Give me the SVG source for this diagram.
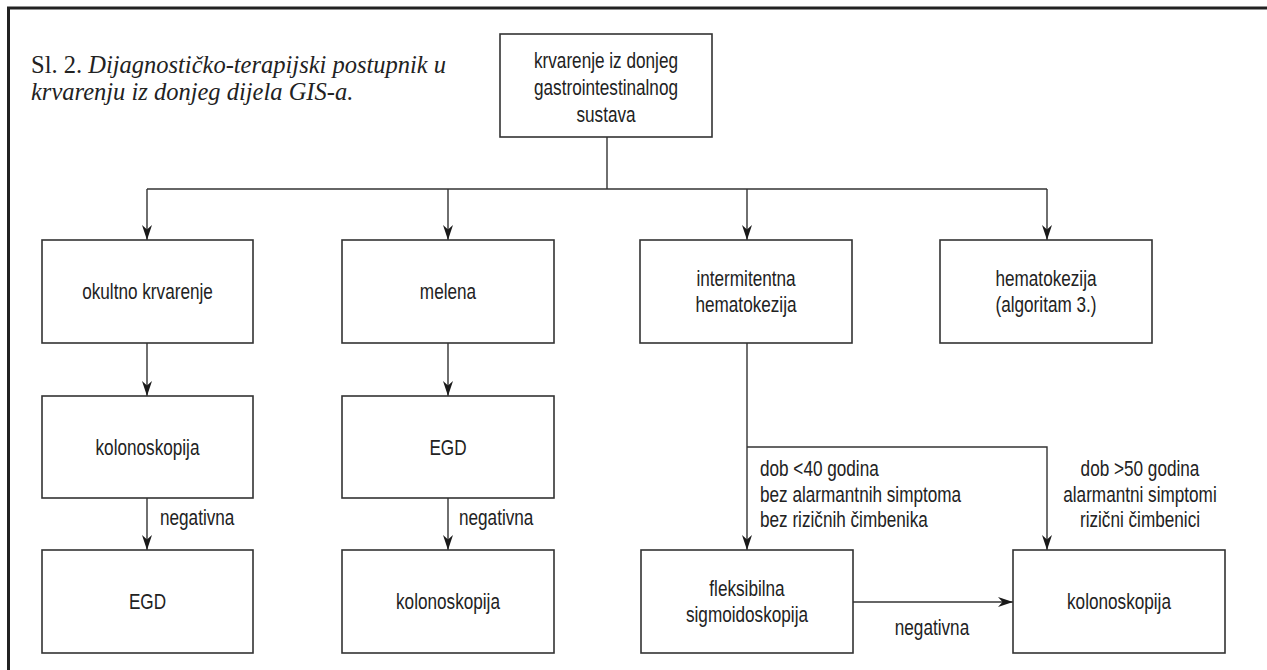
<svg xmlns="http://www.w3.org/2000/svg" width="1267" height="670" viewBox="0 0 1267 670">
<style>
.box{fill:#fff;stroke:#333;stroke-width:1.6}
.t{font-family:"Liberation Sans",Arial,sans-serif;font-size:22px;fill:#222;text-anchor:middle;transform-box:fill-box;transform-origin:center;transform:scaleX(.78)}
.l{text-anchor:start;transform-origin:left center}
.conn{fill:none;stroke:#333;stroke-width:1.4}
.cap{font-family:"Liberation Serif","Times New Roman",serif;font-size:24.5px;fill:#222}
</style>
<defs>
<marker id="ah" viewBox="0 0 15 10" refX="15" refY="5" markerWidth="15" markerHeight="10" markerUnits="userSpaceOnUse" orient="auto">
<path d="M0,0 L15,5 L0,10 L4.5,5 z" fill="#1a1a1a"/>
</marker>
</defs>
<rect x="0" y="0" width="1267" height="670" fill="#fff"/>
<rect x="8.5" y="8" width="1300" height="700" fill="none" stroke="#222" stroke-width="3"/>
<g id="caption">
<text class="cap" x="31" y="73">Sl. 2. <tspan font-style="italic">Dijagnostičko-terapijski postupnik u</tspan></text>
<text class="cap" x="31" y="100" font-style="italic">krvarenju iz donjeg dijela GIS-a.</text>
</g>
<g id="connectors" class="conn">
<path d="M607,137 V189"/>
<path d="M147,189 H1047"/>
<path d="M147,189 V240" marker-end="url(#ah)"/>
<path d="M448,189 V240" marker-end="url(#ah)"/>
<path d="M747,189 V240" marker-end="url(#ah)"/>
<path d="M1047,189 V240" marker-end="url(#ah)"/>
<path d="M147,343 V396" marker-end="url(#ah)"/>
<path d="M448,343 V396" marker-end="url(#ah)"/>
<path d="M147,498 V550" marker-end="url(#ah)"/>
<path d="M448,498 V550" marker-end="url(#ah)"/>
<path d="M747,343 V550" marker-end="url(#ah)"/>
<path d="M747,447 H1047 V550" marker-end="url(#ah)"/>
<path d="M853,602 H1013" marker-end="url(#ah)"/>
</g>
<g id="edge-labels">
<text class="t l" x="160" y="525">negativna</text>
<text class="t l" x="459" y="525">negativna</text>
<text class="t l" x="760" y="476">dob &lt;40 godina</text>
<text class="t l" x="760" y="502">bez alarmantnih simptoma</text>
<text class="t l" x="760" y="527">bez rizičnih čimbenika</text>
<text class="t" x="1140" y="476">dob &gt;50 godina</text>
<text class="t" x="1140" y="502">alarmantni simptomi</text>
<text class="t" x="1140" y="527">rizični čimbenici</text>
<text class="t" x="932" y="635">negativna</text>
</g>
<g id="n-top"><rect class="box" x="500" y="34" width="212" height="103"/>
<text class="t" x="606" y="68">krvarenje iz donjeg</text>
<text class="t" x="606" y="95">gastrointestinalnog</text>
<text class="t" x="606" y="122">sustava</text></g>
<g id="n-okultno"><rect class="box" x="42" y="240" width="211" height="103"/>
<text class="t" x="147.5" y="299">okultno krvarenje</text></g>
<g id="n-melena"><rect class="box" x="342" y="240" width="212" height="103"/>
<text class="t" x="448" y="299">melena</text></g>
<g id="n-intermit"><rect class="box" x="640" y="240" width="212" height="103"/>
<text class="t" x="746" y="286">intermitentna</text>
<text class="t" x="746" y="312">hematokezija</text></g>
<g id="n-hemato"><rect class="box" x="940" y="240" width="212" height="103"/>
<text class="t" x="1046" y="286">hematokezija</text>
<text class="t" x="1046" y="312">(algoritam 3.)</text></g>
<g id="n-kolono1"><rect class="box" x="42" y="396" width="211" height="102"/>
<text class="t" x="147.5" y="455">kolonoskopija</text></g>
<g id="n-egd1"><rect class="box" x="342" y="396" width="212" height="102"/>
<text class="t" x="448" y="455">EGD</text></g>
<g id="n-egd2"><rect class="box" x="42" y="550" width="211" height="103"/>
<text class="t" x="147.5" y="609">EGD</text></g>
<g id="n-kolono2"><rect class="box" x="342" y="550" width="212" height="103"/>
<text class="t" x="448" y="609">kolonoskopija</text></g>
<g id="n-fleks"><rect class="box" x="641" y="550" width="212" height="103"/>
<text class="t" x="747" y="596">fleksibilna</text>
<text class="t" x="747" y="622">sigmoidoskopija</text></g>
<g id="n-kolono3"><rect class="box" x="1013" y="550" width="212" height="103"/>
<text class="t" x="1119" y="609">kolonoskopija</text></g>
</svg>
